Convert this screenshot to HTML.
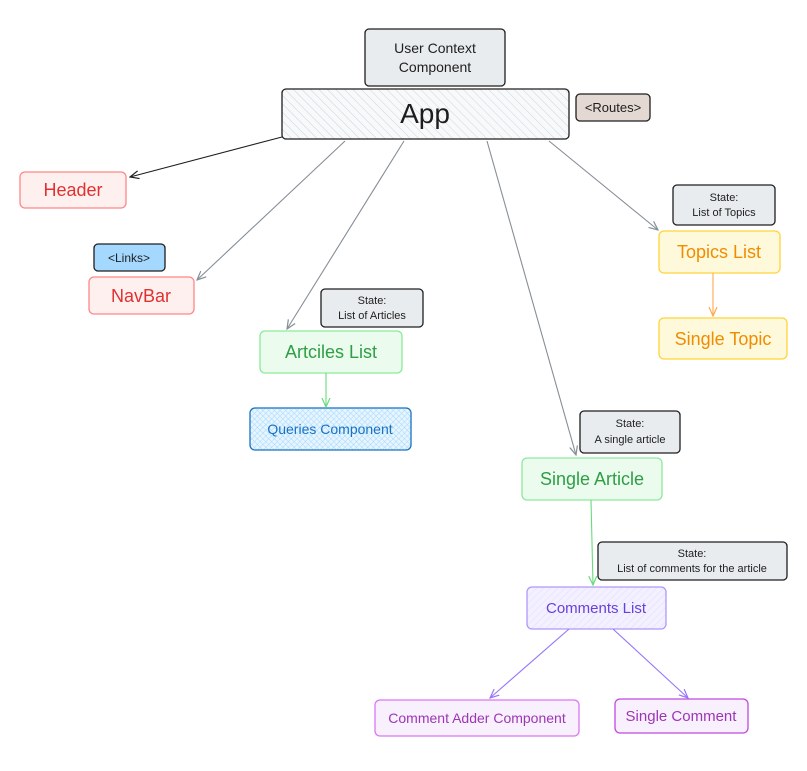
<!DOCTYPE html>
<html><head><meta charset="utf-8"><style>
html,body{margin:0;padding:0;background:#fff;}
svg text{font-family:"Liberation Sans",sans-serif;}
</style></head><body>
<svg width="807" height="766" viewBox="0 0 807 766" xmlns="http://www.w3.org/2000/svg">
<defs>
<pattern id="hg" width="6" height="6" patternUnits="userSpaceOnUse" patternTransform="rotate(-45)"><rect width="6" height="6" fill="#f8f9fa"/><line x1="0" y1="0" x2="0" y2="6" stroke="#ced4da" stroke-width="1"/></pattern>
<pattern id="hb" width="4" height="4" patternUnits="userSpaceOnUse" patternTransform="rotate(45)"><rect width="4" height="4" fill="#e7f5ff"/><line x1="0" y1="0" x2="0" y2="4" stroke="#a5d8ff" stroke-width="1"/><line x1="0" y1="0" x2="4" y2="0" stroke="#a5d8ff" stroke-width="1"/></pattern>
<pattern id="hp" width="5" height="5" patternUnits="userSpaceOnUse" patternTransform="rotate(45)"><rect width="5" height="5" fill="#f3f0ff"/><line x1="0" y1="0" x2="0" y2="5" stroke="#e5dbff" stroke-width="1"/></pattern>
<marker id="a1" markerWidth="10" markerHeight="10" refX="9" refY="5" orient="auto" markerUnits="userSpaceOnUse"><path d="M0,1 L9,5 L0,9" fill="none" stroke="context-stroke" stroke-width="1.2"/></marker>
</defs>
<g stroke-width="1.3">
<rect x="365" y="29" width="140" height="57" rx="4" fill="#e9ecef" stroke="#1e1e1e"/>
<rect x="282" y="89" width="287" height="50" rx="4" fill="url(#hg)" stroke="#1e1e1e"/>
<rect x="576" y="94" width="74" height="27" rx="4" fill="#e3d8d2" stroke="#1e1e1e"/>
<rect x="20" y="172" width="106" height="36" rx="5" fill="#fff0f0" stroke="#ff8787"/>
<rect x="94" y="244" width="71" height="27" rx="4" fill="#a5d8ff" stroke="#1e1e1e"/>
<rect x="89" y="277" width="105" height="37" rx="5" fill="#fff0f0" stroke="#ff8787"/>
<rect x="321" y="289" width="102" height="38" rx="4" fill="#e9ecef" stroke="#1e1e1e"/>
<rect x="260" y="331" width="142" height="42" rx="5" fill="#ebfbee" stroke="#8ce99a"/>
<rect x="250" y="408" width="161" height="42" rx="5" fill="url(#hb)" stroke="#1971c2"/>
<rect x="673" y="185" width="102" height="40" rx="4" fill="#e9ecef" stroke="#1e1e1e"/>
<rect x="659" y="231" width="121" height="42" rx="5" fill="#fff9db" stroke="#ffd43b"/>
<rect x="659" y="318" width="128" height="41" rx="5" fill="#fff9db" stroke="#ffd43b"/>
<rect x="580" y="411" width="100" height="42" rx="4" fill="#e9ecef" stroke="#1e1e1e"/>
<rect x="522" y="458" width="140" height="42" rx="5" fill="#ebfbee" stroke="#8ce99a"/>
<rect x="598" y="542" width="189" height="38" rx="4" fill="#e9ecef" stroke="#1e1e1e"/>
<rect x="527" y="587" width="139" height="42" rx="5" fill="url(#hp)" stroke="#b197fc"/>
<rect x="375" y="700" width="204" height="36" rx="5" fill="#f8f0fc" stroke="#da77f2"/>
<rect x="615" y="699" width="133" height="34" rx="5" fill="#f8f0fc" stroke="#be4bdb"/>
</g>
<g fill="none" stroke-width="1.1">
<path d="M282,137 L130,177" stroke="#1e1e1e" marker-end="url(#a1)"/>
<path d="M345,141 L197,280" stroke="#868e96" marker-end="url(#a1)"/>
<path d="M404,141 L287,329" stroke="#868e96" marker-end="url(#a1)"/>
<path d="M487,141 L576,455" stroke="#868e96" marker-end="url(#a1)"/>
<path d="M549,141 L658,230" stroke="#868e96" marker-end="url(#a1)"/>
<path d="M713,273 L713,316" stroke="#ffa94d" marker-end="url(#a1)"/>
<path d="M326,373 L326,407" stroke="#69db7c" marker-end="url(#a1)"/>
<path d="M591,500 L593,585" stroke="#69db7c" marker-end="url(#a1)"/>
<path d="M569,629 L490,698" stroke="#9775fa" marker-end="url(#a1)"/>
<path d="M613,629 L688,698" stroke="#9775fa" marker-end="url(#a1)"/>
</g>
<g text-anchor="middle">
<text x="435" y="53" font-size="14" fill="#1e1e1e">User Context</text>
<text x="435" y="72" font-size="14" fill="#1e1e1e">Component</text>
<text x="425" y="123" font-size="28" fill="#1e1e1e">App</text>
<text x="613" y="112" font-size="13" fill="#1e1e1e">&lt;Routes&gt;</text>
<text x="73" y="196" font-size="18" fill="#e03131">Header</text>
<text x="129" y="262" font-size="12" fill="#1e1e1e">&lt;Links&gt;</text>
<text x="141" y="302" font-size="18" fill="#e03131">NavBar</text>
<text x="372" y="304" font-size="11" fill="#1e1e1e">State:</text>
<text x="372" y="319" font-size="11" fill="#1e1e1e">List of Articles</text>
<text x="331" y="358" font-size="18" fill="#2f9e44">Artciles List</text>
<text x="330" y="434" font-size="14" fill="#1971c2">Queries Component</text>
<text x="724" y="201" font-size="11" fill="#1e1e1e">State:</text>
<text x="724" y="216" font-size="11" fill="#1e1e1e">List of Topics</text>
<text x="719" y="258" font-size="18" fill="#f08c00">Topics List</text>
<text x="723" y="345" font-size="18" fill="#f08c00">Single Topic</text>
<text x="630" y="427" font-size="11" fill="#1e1e1e">State:</text>
<text x="630" y="443" font-size="11" fill="#1e1e1e">A single article</text>
<text x="592" y="485" font-size="18" fill="#2f9e44">Single Article</text>
<text x="692" y="557" font-size="11" fill="#1e1e1e">State:</text>
<text x="692" y="572" font-size="11" fill="#1e1e1e">List of comments for the article</text>
<text x="596" y="613" font-size="15" fill="#6741d9">Comments List</text>
<text x="477" y="723" font-size="14" fill="#9c36b5">Comment Adder Component</text>
<text x="681" y="721" font-size="15" fill="#9c36b5">Single Comment</text>
</g>
</svg>
</body></html>
